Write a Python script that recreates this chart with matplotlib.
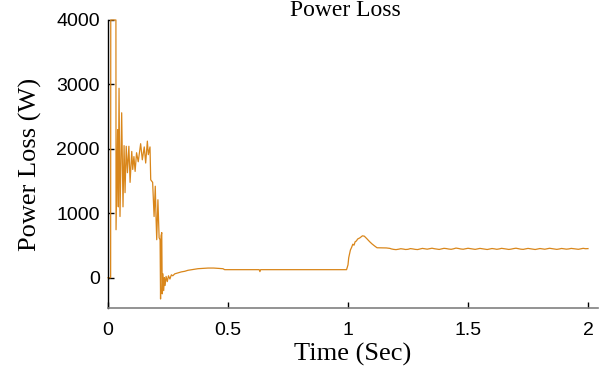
import numpy as np
import matplotlib
matplotlib.use("Agg")
import matplotlib.pyplot as plt

# ---- data ----
t_transient = [0, 0.011, 0.0115, 0.033, 0.0335, 0.040, 0.043, 0.046, 0.050, 0.057, 0.0625,
               0.067, 0.071, 0.076, 0.081, 0.087, 0.092, 0.099, 0.103, 0.108, 0.113,
               0.119, 0.126, 0.136, 0.143, 0.151, 0.157, 0.164, 0.168, 0.175, 0.178,
               0.186, 0.192, 0.197, 0.200, 0.203, 0.208, 0.213, 0.217, 0.219, 0.221,
               0.224, 0.226, 0.229, 0.232, 0.235, 0.238, 0.242, 0.247, 0.252, 0.258,
               0.264, 0.270, 0.278, 0.292, 0.305, 0.320, 0.333, 0.350, 0.375, 0.400,
               0.417, 0.440, 0.479, 0.486, 0.630, 0.633, 0.636, 0.994]
p_transient = [0, 0, 4000, 4000, 745, 2300, 1100, 2940, 950, 2560, 1100,
               2050, 1320, 2040, 1630, 2040, 1480, 1960, 1680, 1880, 1650,
               1940, 1800, 2080, 1830, 2030, 1780, 2120, 1910, 2030, 1520,
               1480, 950, 1420, 950, 590, 1210, 620, 590, -330, 650,
               700, -250, 60, -200, 0, -120, 20, -60, 30, -20,
               45, 30, 60, 75, 90, 100, 115, 125, 140, 145,
               150, 150, 140, 125, 125, 95, 125, 125]

t_step = [1.000, 1.003, 1.010, 1.015, 1.020, 1.025, 1.030, 1.035, 1.040, 1.050,
          1.060, 1.068, 1.080, 1.090, 1.100, 1.110, 1.121, 1.160, 1.175]
p_step = [200, 310, 430, 470, 520, 505, 560, 570, 600, 620,
          650, 645, 600, 560, 525, 495, 465, 462, 455]

p_steady = [448, 440, 436, 442, 450, 445, 438, 441, 452, 447, 440, 437, 446, 455,
            449, 443, 451, 458, 450, 444, 439, 447, 456, 452, 445, 441, 449, 460,
            454, 446, 442, 450, 457, 451, 444, 440, 447, 455, 449, 443, 438, 446,
            453, 448, 441, 447, 456, 451, 445, 439, 444, 452, 458, 450, 443, 440,
            448, 455, 449, 444, 438, 445, 453, 447, 442, 449, 457, 451, 445, 440,
            446, 454, 449, 443, 447, 455, 450, 444, 441, 448, 456, 450, 452]
t_steady_range = (1.18, 2.0)

x_ticks = [0, 0.5, 1, 1.5, 2]
x_labels = ["0", "0.5", "1", "1.5", "2"]
y_ticks = [0, 1000, 2000, 3000, 4000]
y_labels = ["0", "1000", "2000", "3000", "4000"]

t_steady = np.linspace(t_steady_range[0], t_steady_range[1], len(p_steady))
t = np.concatenate([t_transient, t_step, t_steady])
p = np.concatenate([p_transient, p_step, p_steady])

fig = plt.figure(figsize=(6.06, 3.72), dpi=100)
ax = fig.add_axes([108/606, 64/372, 490/606, 288/372])

ax.plot(t, p, color="#D9861A", lw=0.9, clip_on=False)

ax.set_xlim(0, 2.0417)
ax.set_ylim(-470, 4000)
ax.set_xticks(x_ticks)
ax.set_xticklabels(x_labels)
ax.set_yticks(y_ticks)
ax.set_yticklabels(y_labels)

for s in ["top", "right"]:
    ax.spines[s].set_visible(False)
ax.spines["left"].set_color("black")
ax.spines["bottom"].set_color("#808080")
ax.spines["left"].set_linewidth(1.0)
ax.spines["bottom"].set_linewidth(1.2)

ax.tick_params(axis="both", direction="in", length=4, width=1, colors="black")
ax.tick_params(axis="x", pad=10)
ax.tick_params(axis="y", pad=6)
for lab in ax.get_xticklabels() + ax.get_yticklabels():
    lab.set_fontfamily("Liberation Sans")
    lab.set_fontsize(14)

serif = "Liberation Serif"
ax.set_xlabel("Time (Sec)", fontfamily=serif, fontsize=19, labelpad=3)
ax.set_ylabel("Power Loss (W)", fontfamily=serif, fontsize=19, labelpad=10)
fig.text(345/606, 1.0, "Power Loss", fontfamily=serif, fontsize=17,
         ha="center", va="top")

fig.savefig("out.png", dpi=100)
